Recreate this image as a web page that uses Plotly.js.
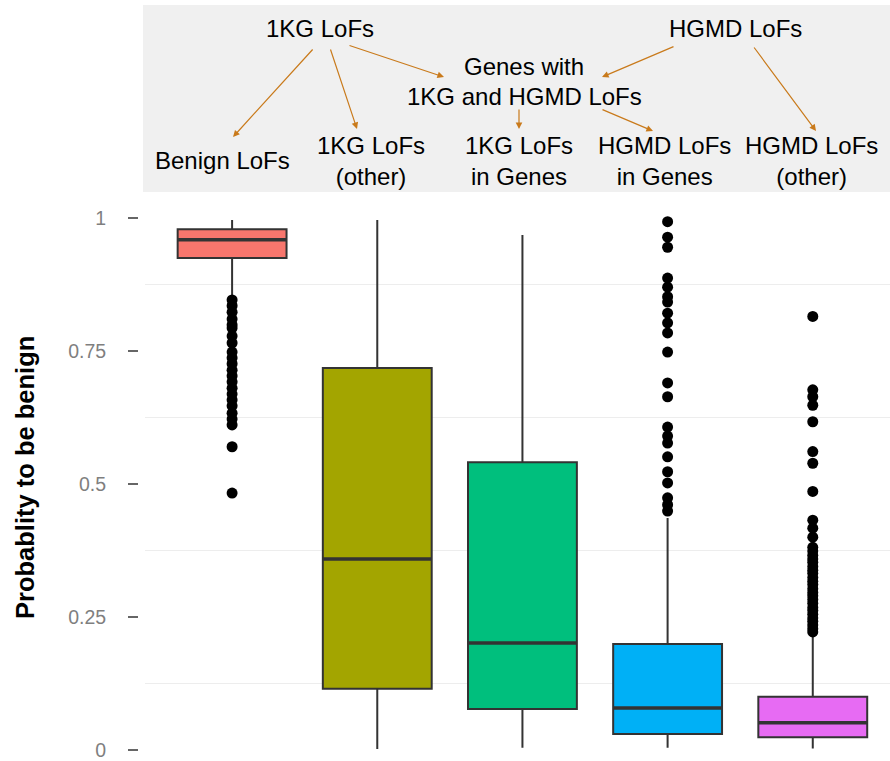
<!DOCTYPE html>
<html>
<head>
<meta charset="utf-8">
<script src="https://cdn.plot.ly/plotly-3.0.1.min.js"></script>
<style>html,body{margin:0;padding:0;background:#fff;}#chart{width:890px;height:761px;}</style>
</head>
<body>
<div id="chart"></div>
<script>
// ---- data ----
const categories = ['Benign LoFs', '1KG LoFs (other)', '1KG LoFs in Genes', 'HGMD LoFs in Genes', 'HGMD LoFs (other)'];
const lowerFence = [0.850, 0.002, 0.004, 0.004, 0.003];
const q1Values   = [0.925, 0.115, 0.077, 0.030, 0.024];
const medians    = [0.959, 0.359, 0.201, 0.079, 0.051];
const q3Values   = [0.979, 0.718, 0.541, 0.199, 0.100];
const upperFence = [0.996, 0.996, 0.968, 0.436, 0.215];
const outliersBenign = [0.846, 0.835, 0.823, 0.810, 0.799, 0.793, 0.778, 0.765, 0.748, 0.737, 0.726, 0.714, 0.703,
  0.692, 0.680, 0.669, 0.658, 0.647, 0.633, 0.622, 0.611, 0.570, 0.483];
const outliers1KGOther = [];
const outliers1KGGenes = [];
const outliersHGMDGenes = [0.993, 0.964, 0.945, 0.887, 0.870, 0.852, 0.842, 0.821, 0.803, 0.784, 0.748, 0.690, 0.664,
  0.607, 0.590, 0.577, 0.551, 0.523, 0.502, 0.474, 0.461, 0.449];
const outliersHGMDOther = [0.815, 0.677, 0.664, 0.648, 0.617, 0.561, 0.539, 0.486, 0.432, 0.417, 0.400,
  0.381, 0.374, 0.366, 0.359, 0.353, 0.345, 0.338, 0.332, 0.324, 0.317, 0.311, 0.303, 0.296, 0.290, 0.283,
  0.276, 0.268, 0.262, 0.255, 0.248, 0.242, 0.235, 0.228, 0.222];
const outlierLists = [outliersBenign, outliers1KGOther, outliers1KGGenes, outliersHGMDGenes, outliersHGMDOther];
const boxColors = ['#F8766D', '#A3A500', '#00BF7D', '#00B0F6', '#E76BF3'];
const yTickVals = [0, 0.25, 0.5, 0.75, 1];
const yTickText = ['0', '0.25', '0.5', '0.75', '1'];
const yTitle = 'Probablity to be benign';
// header panel labels
const topLabels = ['1KG LoFs', 'HGMD LoFs', 'Genes with', '1KG and HGMD LoFs'];
const groupLabels = ['Benign LoFs', '1KG LoFs<br>(other)', '1KG LoFs<br>in Genes', 'HGMD LoFs<br>in Genes', 'HGMD LoFs<br>(other)'];

// ---- layout helpers (pixel -> paper) ----
const W = 890, H = 761, ML = 138, MT = 195;
const PW = W - ML, PH = H - MT;
const px = x => (x - ML) / PW;
const py = y => (H - y) / PH;

const traces = [];
categories.forEach((c, i) => {
  traces.push({
    type: 'box', name: c, x: [c],
    q1: [q1Values[i]], median: [medians[i]], q3: [q3Values[i]],
    lowerfence: [lowerFence[i]], upperfence: [upperFence[i]],
    fillcolor: boxColors[i], line: {color: '#333333', width: 2},
    whiskerwidth: 0, width: 0.75, boxpoints: false, hoverinfo: 'y', showlegend: false
  });
});
categories.forEach((c, i) => {
  if (!outlierLists[i].length) return;
  traces.push({
    type: 'scatter', mode: 'markers', x: outlierLists[i].map(() => c), y: outlierLists[i],
    marker: {color: '#000000', size: 11}, showlegend: false, hoverinfo: 'y', cliponaxis: false
  });
});

const font = 'Liberation Sans, Arial, sans-serif';
const arrowColor = '#c97a1b';
const annotations = [];
// header text
const txt = (t, x, y) => ({text: t, xref: 'paper', yref: 'paper', x: px(x), y: py(y), xanchor: 'center', yanchor: 'middle',
  showarrow: false, font: {family: font, size: 24, color: '#000'}});
annotations.push(txt(topLabels[0], 320, 29));
annotations.push(txt(topLabels[1], 735, 29));
annotations.push(txt(topLabels[2], 524, 67));
annotations.push(txt(topLabels[3], 524, 96));
const groupX = [222, 371, 519, 664, 811];
const groupY = [160, 161, 161, 161, 161];
groupLabels.forEach((g, i) => annotations.push(txt(g, groupX[i], groupY[i])));
// arrows: [tailX, tailY, headX, headY]
const arrows = [[314, 48, 233, 137], [330, 48, 357, 129], [348, 45, 444, 77], [675, 46, 602, 77],
  [753, 46, 816, 131], [519, 108, 519, 129], [601, 109, 653, 131]];
arrows.forEach(a => annotations.push({
  text: '', xref: 'paper', yref: 'paper', x: px(a[2]), y: py(a[3]), ax: a[0] - a[2], ay: a[1] - a[3],
  showarrow: true, arrowhead: 2, arrowsize: 1.1, arrowwidth: 1.2, arrowcolor: arrowColor, standoff: 0, startstandoff: 0
}));
// y title
annotations.push({text: '<b>' + yTitle + '</b>', xref: 'paper', yref: 'paper', x: px(25), y: py(478),
  xanchor: 'center', yanchor: 'middle', textangle: -90, showarrow: false,
  font: {family: font, size: 25.5, color: '#000'}});

const shapes = [{type: 'rect', xref: 'paper', yref: 'paper', x0: px(143), x1: 1, y0: py(192), y1: py(5),
  fillcolor: '#f0f0f0', line: {width: 0}, layer: 'below'}];
medians.forEach((m, i) => shapes.push({type: 'line', xref: 'x', yref: 'y', x0: i - 0.375, x1: i + 0.375, y0: m, y1: m,
  line: {color: '#333333', width: 3.5}}));

const layout = {
  width: W, height: H, margin: {l: ML, r: 0, t: MT, b: 0, pad: 0},
  paper_bgcolor: '#ffffff', plot_bgcolor: '#ffffff', showlegend: false, boxmode: 'overlay',
  xaxis: {type: 'category', categoryarray: categories, range: [-0.6, 4.532], domain: [px(145), 1],
    showticklabels: false, showgrid: false, zeroline: false, showline: false, ticks: ''},
  yaxis: {anchor: 'free', position: 0, range: [-0.0207, 1.0432], tickvals: yTickVals, ticktext: yTickText,
    ticks: 'outside', ticklen: 10, tickwidth: 1.5, tickcolor: '#666666', ticklabelstandoff: 18,
    tickfont: {family: font, size: 19.5, color: '#7f7f7f'}, showline: false, showgrid: false, zeroline: false,
    minor: {tick0: 0.125, dtick: 0.25, showgrid: true, gridcolor: '#ededed', gridwidth: 1.5, ticks: ''}},
  annotations: annotations, shapes: shapes, font: {family: font}
};
Plotly.newPlot('chart', traces, layout, {displayModeBar: false, staticPlot: true});
</script>
</body>
</html>
